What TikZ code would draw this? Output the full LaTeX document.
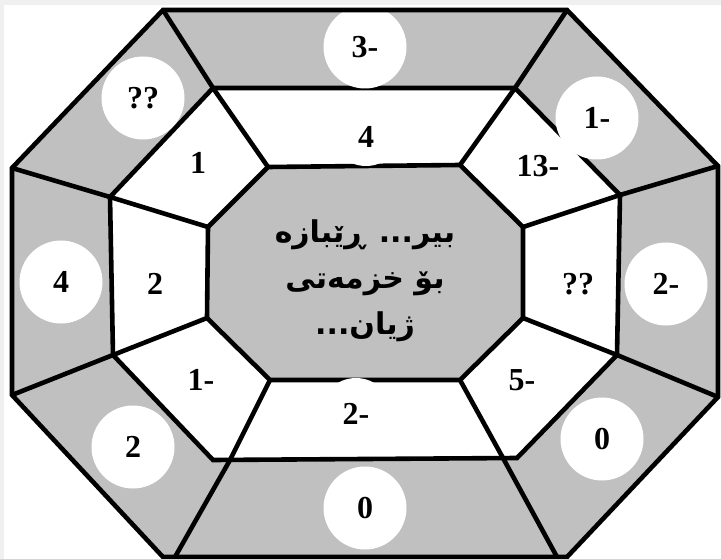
\documentclass[tikz,border=0pt]{standalone}
\usepackage{fontspec}
\setmainfont{Liberation Serif}
\newfontfamily\kurdfont[Script=Arabic]{DejaVu Sans}
\TeXXeTstate=1
\definecolor{ringgray}{RGB}{192,192,192}
\definecolor{framegray}{RGB}{240,240,240}
\tikzset{
  wall/.style={line width=4.6pt,line join=miter},
  disc/.style={circle,fill=white,minimum size=83pt,inner sep=0pt},
  num/.style={font=\bfseries\fontsize{32}{32}\selectfont,inner sep=0pt},
}
\begin{document}
\begin{tikzpicture}[x=1pt,y=-1pt]
\useasboundingbox (0,0) rectangle (721,559);
\fill[framegray] (0,0) rectangle (721,559);
\fill[white] (4,5) rectangle (721,559);
% outer octagon
\coordinate (o1) at (163,10);  \coordinate (o2) at (567,10);
\coordinate (o3) at (718,166); \coordinate (o4) at (718,397);
\coordinate (o5) at (567,557); \coordinate (o6) at (163,557);
\coordinate (o7) at (12,395);  \coordinate (o8) at (12,168);
% middle octagon
\coordinate (m1) at (213,88);  \coordinate (m2) at (515,88);
\coordinate (m3) at (620,195); \coordinate (m4) at (617,355);
\coordinate (m5) at (517,458); \coordinate (m6) at (213,460);
\coordinate (m7) at (113,355); \coordinate (m8) at (110,197);
% inner octagon
\coordinate (i1) at (268,167); \coordinate (i2) at (460,165);
\coordinate (i3) at (523,227); \coordinate (i4) at (523,318);
\coordinate (i5) at (460,380); \coordinate (i6) at (270,380);
\coordinate (i7) at (207,318); \coordinate (i8) at (208,227);
% spoke ends on the outer edge
\coordinate (s5) at (557,557); \coordinate (s6) at (175,557);
\coordinate (t5) at (503,458); \coordinate (t6) at (230,460);

\fill[ringgray] (o1)--(o2)--(o3)--(o4)--(o5)--(o6)--(o7)--(o8)--cycle;
\fill[white] (m1)--(m2)--(m3)--(m4)--(m5)--(m6)--(m7)--(m8)--cycle;
\fill[ringgray] (i1)--(i2)--(i3)--(i4)--(i5)--(i6)--(i7)--(i8)--cycle;

\draw[wall] (m1)--(m2)--(m3)--(m4)--(m5)--(m6)--(m7)--(m8)--cycle;
\draw[wall] (i1)--(i2)--(i3)--(i4)--(i5)--(i6)--(i7)--(i8)--cycle;
\draw[wall] (i1)--(m1)--(o1);
\draw[wall] (i2)--(m2)--(o2);
\draw[wall] (i3)--(m3)--(o3);
\draw[wall] (i4)--(m4)--(o4);
\draw[wall] (i5)--(t5)--(s5);
\draw[wall] (i6)--(t6)--(s6);
\draw[wall] (i7)--(m7)--(o7);
\draw[wall] (i8)--(m8)--(o8);

% outer ring
\node[disc,num] (otl) at (143,98)  {??};
\node[disc,num] (ot)  at (365,47)  {3-};
\node[disc,num] (otr) at (597,118) {1-};
\node[disc,num] (or)  at (666,284) {2-};
\node[disc,num] (obr) at (602,439) {0};
\node[disc,num] (ob)  at (365,508) {0};
\node[disc,num] (obl) at (133,447) {2};
\node[disc,num] (ol)  at (61,282)  {4};
\draw[wall] (o1)--(o2)--(o3)--(o4)--(o5)--(o6)--(o7)--(o8)--cycle;

% middle ring
\fill[white] (366,130) circle (36);
\fill[white] (356,414) circle (36);
\node[num] (mtl) at (198,163) {1};
\node[num] (mt)  at (366,137) {4};
\node[num] (mtr) at (538,166) {13-};
\node[num] (mr)  at (578,284) {??};
\node[num] (mbr) at (522,380) {5-};
\node[num] (mb)  at (356,414) {2-};
\node[num] (mbl) at (201,380) {1-};
\node[num] (ml)  at (155,284) {2};

% centre
\node[align=center,font=\kurdfont\bfseries\fontsize{30}{46}\selectfont] (title) at (365,281)
  {\beginR بیر\kern0pt... ڕێبازە\endR\\ \beginR بۆ خزمەتی\endR\\ \beginR ژیان\kern0pt...\endR};
\end{tikzpicture}
\end{document}
